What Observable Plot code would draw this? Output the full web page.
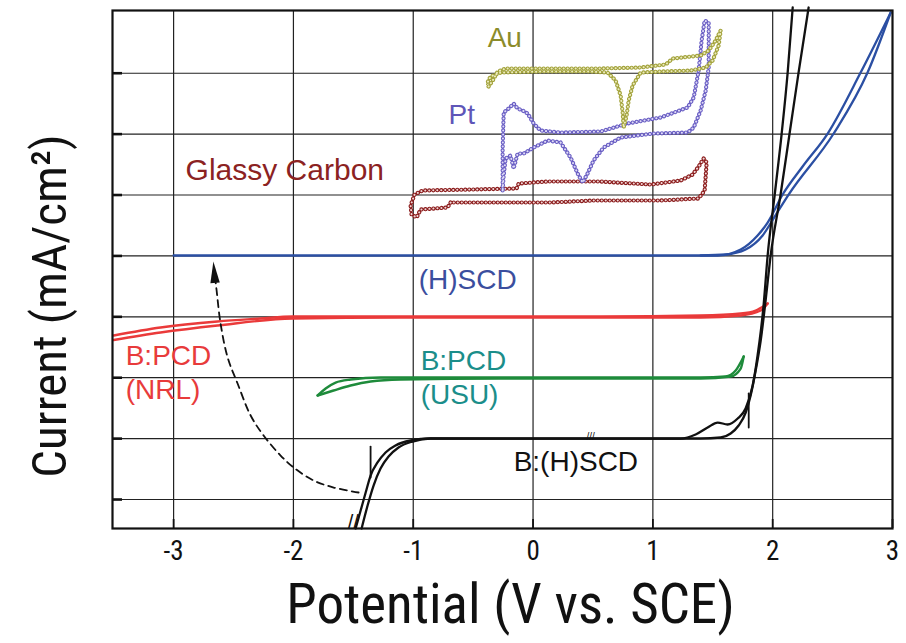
<!DOCTYPE html>
<html>
<head>
<meta charset="utf-8">
<script src="https://cdn.jsdelivr.net/npm/d3@7"></script>
<script src="https://cdn.jsdelivr.net/npm/@observablehq/plot@0.6"></script>
<style>
  html, body { margin: 0; padding: 0; background: #fff; }
  #wrap { position: relative; width: 906px; height: 643px; }
  #ytitle {
    position: absolute; left: 49px; top: 306px;
    transform: translate(-50%, -50%) rotate(-90deg);
    white-space: nowrap; font-size: 49px; color: #111; line-height: 1;
    font-family: 'Liberation Sans Narrow', 'Arial Narrow', 'Roboto Condensed', 'Liberation Sans', sans-serif;
  }
</style>
</head>
<body>
<div id="wrap">
  <div id="chart"></div>
  <div id="ytitle">Current (mA/cm²)</div>
</div>
<script>
// Potential axis (V vs. SCE) and current axis (one grid step per curve offset)
const xTicks = [-3, -2, -1, 0, 1, 2, 3];
const xGrid = [-3, -2, -1, 0, 1, 2];
const yGrid = [0, 1, 2, 3, 4, 5, 6, 7];
const xDomain = [-3.51, 3.0];
const yDomain = [-0.476, 8.03];

// Metal and carbon electrodes (sampled, dotted traces)
const auCurve = [
  [-0.371, 6.782], [-0.337, 6.880], [-0.295, 7.028], [-0.229, 7.077], [0.063, 7.077],
  [0.564, 7.077], [0.898, 7.094], [1.107, 7.143], [1.165, 7.241], [1.399, 7.291],
  [1.466, 7.373], [1.524, 7.537], [1.566, 7.701], [1.549, 7.455], [1.499, 7.209],
  [1.441, 7.094], [1.316, 7.044], [1.065, 7.028], [0.898, 7.011], [0.831, 6.798],
  [0.798, 6.552], [0.781, 6.305], [0.756, 6.108], [0.748, 6.355], [0.731, 6.634],
  [0.689, 6.880], [0.622, 7.011], [0.480, 7.028], [0.063, 7.028], [-0.270, 7.011],
  [-0.355, 6.946], [-0.388, 6.815]
];
const ptCurve = [
  [-0.254, 5.074], [-0.254, 5.731], [-0.245, 6.355], [-0.204, 6.420], [-0.162, 6.502],
  [-0.129, 6.420], [-0.087, 6.388], [-0.045, 6.338], [0.005, 6.174], [0.063, 6.059],
  [0.230, 6.026], [0.564, 6.043], [0.789, 6.174], [1.065, 6.273], [1.290, 6.437],
  [1.341, 6.601], [1.382, 7.044], [1.407, 7.537], [1.432, 7.865], [1.466, 7.833],
  [1.466, 7.094], [1.441, 6.716], [1.399, 6.388], [1.341, 6.108], [1.290, 6.026],
  [1.007, 6.010], [0.731, 5.944], [0.589, 5.780], [0.505, 5.567], [0.455, 5.353],
  [0.414, 5.205], [0.372, 5.353], [0.313, 5.616], [0.230, 5.862], [0.122, 5.895],
  [0.005, 5.780], [-0.078, 5.681], [-0.129, 5.681], [-0.162, 5.435], [-0.188, 5.649],
  [-0.229, 5.599], [-0.245, 5.320], [-0.254, 5.074]
];
const gcCurve = [
  [-0.688, 4.877], [-0.713, 4.795], [-0.938, 4.762], [-0.972, 4.631], [-1.014, 4.680],
  [-1.022, 4.828], [-0.989, 5.008], [-0.922, 5.074], [-0.521, 5.090], [-0.137, 5.107],
  [-0.120, 5.189], [0.122, 5.222], [0.564, 5.222], [0.982, 5.172], [1.232, 5.238],
  [1.332, 5.337], [1.382, 5.468], [1.424, 5.599], [1.449, 5.534], [1.432, 5.074],
  [1.382, 4.943], [1.065, 4.910], [0.505, 4.910], [0.147, 4.877], [-0.270, 4.877],
  [-0.688, 4.877]
];

// Diamond electrodes (continuous traces, each branch ordered by potential)
const hscdForward = [
  [-3.0, 4.007], [1.541, 4.007], [1.733, 4.105], [1.874, 4.335], [1.958, 4.548],
  [2.083, 5.008], [2.250, 5.468], [2.459, 6.010], [2.734, 7.011], [2.985, 7.997]
];
const hscdReverse = [
  [1.399, 4.007], [1.607, 4.023], [1.774, 4.105], [1.916, 4.335], [2.017, 4.647],
  [2.133, 5.008], [2.509, 6.010], [2.792, 7.011], [2.985, 7.997]
];
const nrlForward = [
  [-3.50, 2.693], [-3.109, 2.824], [-2.634, 2.923], [-2.275, 2.972], [-2.008, 3.005],
  [-1.106, 3.005], [0.564, 3.005], [1.399, 3.021], [1.733, 3.054], [1.858, 3.103],
  [1.958, 3.218]
];
const nrlReverse = [
  [-3.50, 2.620], [-3.109, 2.742], [-2.634, 2.857], [-2.008, 2.972], [-1.106, 2.989],
  [1.399, 2.989], [1.733, 3.021], [1.900, 3.103], [1.958, 3.218]
];
const usuUpper = [
  [-1.798, 1.708], [-1.731, 1.823], [-1.648, 1.921], [-1.523, 1.970], [-1.272, 2.003],
  [-0.270, 2.003], [0.564, 2.003], [1.399, 2.003], [1.607, 2.020], [1.691, 2.118],
  [1.758, 2.348]
];
const usuLower = [
  [-1.798, 1.708], [-1.665, 1.790], [-1.523, 1.872], [-1.356, 1.938], [-1.106, 1.970],
  [-0.270, 1.987], [1.399, 1.987], [1.649, 2.020], [1.733, 2.151], [1.758, 2.348]
];
const bhscdForward = [
  [-1.481, -0.476], [-1.439, -0.181], [-1.397, 0.115], [-1.356, 0.394], [-1.298, 0.608],
  [-1.231, 0.772], [-1.148, 0.887], [-1.022, 0.969], [-0.856, 1.002], [0.564, 1.000],
  [1.232, 1.000], [1.357, 1.067], [1.457, 1.182], [1.541, 1.264], [1.624, 1.232],
  [1.708, 1.330], [1.774, 1.494], [1.833, 1.872], [1.874, 2.365], [1.924, 3.186],
  [1.958, 4.007], [2.017, 5.008], [2.075, 6.010], [2.125, 7.011], [2.167, 8.079]
];
const bhscdReverse = [
  [-1.431, -0.476], [-1.381, -0.099], [-1.331, 0.230], [-1.273, 0.509], [-1.206, 0.706],
  [-1.123, 0.854], [-1.006, 0.952], [-0.856, 1.002], [1.399, 1.002], [1.566, 1.018],
  [1.649, 1.084], [1.716, 1.215], [1.775, 1.429], [1.816, 1.708], [1.858, 2.118],
  [1.900, 2.611], [1.941, 3.268], [1.983, 4.007], [2.066, 5.008], [2.141, 6.010],
  [2.216, 7.011], [2.300, 8.079]
];
// Sweep-limit markers on the B:(H)SCD trace
const bhscdLimitLow = [[-1.356, 0.361], [-1.356, 0.870]];
const bhscdLimitHigh = [[1.800, 1.182], [1.800, 1.741]];

// Dashed arrow: window widening from B:(H)SCD to (H)SCD
const arrowPath = [
  [-1.456, 0.115], [-1.664, 0.197], [-1.831, 0.312], [-1.998, 0.525], [-2.107, 0.722],
  [-2.249, 1.051], [-2.357, 1.379], [-2.466, 1.905], [-2.549, 2.332], [-2.608, 2.890],
  [-2.641, 3.432], [-2.649, 3.563]
];
const arrowTip = [[-2.658, 3.711]];

// Axis break on the potential axis and break mark on the B:(H)SCD baseline
const axisBreaks = [{x: -1.5, text: "//"}];
const traceBreaks = [{x: 0.48, y: 1.03, text: "///"}];

const labels = [
  {x: -0.379, y: 7.57, text: "Au", color: "#8c8c2a", size: 28},
  {x: -0.705, y: 6.32, text: "Pt", color: "#5f56b8", size: 28},
  {x: -2.90, y: 5.40, text: "Glassy Carbon", color: "#8b2222", size: 30},
  {x: -0.955, y: 3.61, text: "(H)SCD", color: "#3b4e9e", size: 28},
  {x: -3.40, y: 2.36, text: "B:PCD", color: "#e83b3b", size: 28},
  {x: -3.40, y: 1.79, text: "(NRL)", color: "#e83b3b", size: 28},
  {x: -0.938, y: 2.28, text: "B:PCD", color: "#1b8e8a", size: 28},
  {x: -0.938, y: 1.71, text: "(USU)", color: "#1b8e8a", size: 28},
  {x: -0.162, y: 0.61, text: "B:(H)SCD", color: "#111111", size: 28}
];

const NARROW = "'Liberation Sans Narrow', 'Arial Narrow', 'Roboto Condensed', 'Liberation Sans', sans-serif";
const SANS = "'Liberation Sans', Arial, Helvetica, sans-serif";

const X = d => d[0], Y = d => d[1];

// Line with small open-circle markers along it
function beaded(data, color, inner) {
  return [
    Plot.line(data, {x: X, y: Y, stroke: color, strokeWidth: 1.2}),
    Plot.line(data, {x: X, y: Y, stroke: color, strokeWidth: 4.2, strokeDasharray: "0.1 3.9", strokeLinecap: "round"}),
    Plot.line(data, {x: X, y: Y, stroke: inner, strokeWidth: 2.0, strokeDasharray: "0.1 3.9", strokeLinecap: "round"})
  ];
}

function trace(data, color, width) {
  return Plot.line(data, {x: X, y: Y, stroke: color, strokeWidth: width, curve: "monotone-x"});
}

const arrowHead = {
  draw(context) {
    context.moveTo(-1.2, -12);
    context.lineTo(5.2, 9);
    context.lineTo(-4.2, 9.8);
    context.closePath();
  }
};

const W = 906, H = 643;
const mL = 112, mR = 14, mT = 10, mB = 115;

const chart = Plot.plot({
  width: W,
  height: H,
  marginLeft: mL,
  marginRight: mR,
  marginTop: mT,
  marginBottom: mB,
  x: {domain: xDomain, label: null},
  y: {domain: yDomain, label: null, axis: null},
  color: {type: "identity"},
  style: {fontFamily: NARROW, background: "#fff", color: "#111", overflow: "visible"},
  marks: [
    Plot.gridX(xGrid, {stroke: "#222", strokeOpacity: 1, strokeWidth: 1.2}),
    Plot.gridY(yGrid, {stroke: "#222", strokeOpacity: 1, strokeWidth: 1.2}),
    // inward tick marks
    Plot.ruleX(xTicks, {x: d => d, insetTop: H - mT - mB - 9, stroke: "#111", strokeWidth: 1.8}),
    Plot.ruleY(yGrid, {y: d => d, insetRight: W - mL - mR - 10, stroke: "#111", strokeWidth: 2.6}),
    Plot.axisX({ticks: xTicks, tickSize: 0, tickPadding: 12, fontSize: 27, fontFamily: NARROW,
      tickFormat: d => String(d), label: null}),

    ...beaded(gcCurve, "#8b1c1c", "#f0d8d8"),
    ...beaded(ptCurve, "#6a5fc4", "#e0dcf6"),
    ...beaded(auCurve, "#a3a33c", "#ecebbf"),

    trace(hscdForward, "#2b4fa3", 2.3),
    trace(hscdReverse, "#2b4fa3", 2.3),
    trace(nrlForward, "#ea3a3a", 2.4),
    trace(nrlReverse, "#ea3a3a", 2.4),
    trace(usuUpper, "#1e8b3b", 2.4),
    trace(usuLower, "#1e8b3b", 2.4),

    Plot.line(arrowPath, {x: X, y: Y, stroke: "#111", strokeWidth: 1.8, strokeDasharray: "7 5", curve: "catmull-rom"}),
    Plot.dot(arrowTip, {x: X, y: Y, symbol: arrowHead, fill: "#111", stroke: "none"}),

    trace(bhscdForward, "#111", 2.3),
    trace(bhscdReverse, "#111", 2.3),
    Plot.line(bhscdLimitLow, {x: X, y: Y, stroke: "#111", strokeWidth: 1.8}),
    Plot.line(bhscdLimitHigh, {x: X, y: Y, stroke: "#111", strokeWidth: 1.8}),
    Plot.text(traceBreaks, {x: "x", y: "y", text: "text", fontSize: 10, fill: "#111", fontFamily: SANS}),

    Plot.text(labels, {x: "x", y: "y", text: "text", fill: "color", textAnchor: "start",
      lineAnchor: "middle", fontSize: "size", fontFamily: SANS}),

    Plot.frame({stroke: "#111", strokeWidth: 2.2}),
    Plot.text(axisBreaks, {x: "x", text: "text", frameAnchor: "bottom", fontSize: 20,
      fontFamily: SANS, fill: "#111"}),

    // potential axis title
    Plot.text(["Potential (V vs. SCE)"], {frameAnchor: "bottom", text: d => d, dx: 8, dy: 77,
      lineAnchor: "middle", fontSize: 55, fontFamily: NARROW, fill: "#111"})
  ]
});

document.getElementById("chart").appendChild(chart);
</script>
</body>
</html>
